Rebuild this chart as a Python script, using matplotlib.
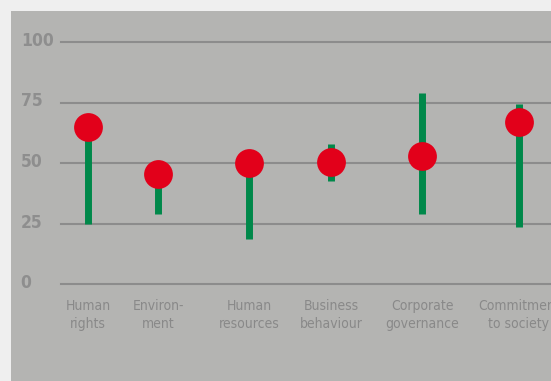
import matplotlib
matplotlib.use("Agg")
import matplotlib.pyplot as plt
from matplotlib.patches import Rectangle
from matplotlib.transforms import ScaledTranslation

categories = ["Human\nrights", "Environ-\nment", "Human\nresources",
              "Business\nbehaviour", "Corporate\ngovernance", "Commitment\nto society"]
scores = [65, 45.5, 50, 50.5, 53, 67]
range_low = [25, 29, 18.5, 42.5, 29, 23.5]
range_high = [65, 45.5, 50, 58, 79, 74.5]
yticks = [0, 25, 50, 75, 100]

# uneven horizontal placement, as in the original
xpos = [27, 97, 188, 270, 361, 458]

plt.rcParams['font.family'] = ['DejaVu Sans']
plt.rcParams['font.stretch'] = 'condensed'

fig = plt.figure(figsize=(5.51, 3.81), dpi=100)
fig.patch.set_facecolor("#efefef")
fig.patches.append(Rectangle((11 / 551, 0), 1, 1 - 11 / 381, transform=fig.transFigure,
                             facecolor="#b4b4b2", edgecolor="none", zorder=-10))

ax = fig.add_axes([61 / 551, 1 - 284 / 381, 490 / 551, (284 - 42) / 381])
ax.set_facecolor("none")
ax.set_xlim(0, 490)
ax.set_ylim(0, 100)

for y in yticks:
    ax.axhline(y, color="#8c8c8c", lw=1.5, zorder=1, clip_on=False)

ax.vlines(xpos, range_low, range_high, color="#00884a", lw=5, zorder=2)
ax.scatter(xpos, scores, s=430, color="#e2001a", zorder=3, linewidths=0)

for s in ax.spines.values():
    s.set_visible(False)

ax.set_yticks(yticks)
ax.set_yticklabels([str(v) for v in yticks], fontsize=12.5, color="#8e8e8e",
                   ha="left", fontstretch="condensed", fontweight="bold")
ax.tick_params(axis="y", length=0, pad=29)
shift = ScaledTranslation(0, 3 / 100, fig.dpi_scale_trans)
for lbl in ax.get_yticklabels():
    lbl.set_transform(lbl.get_transform() + shift)

ax.set_xticks(xpos)
ax.set_xticklabels(categories, fontsize=10, color="#898989", linespacing=1.3,
                   fontstretch="condensed")
ax.tick_params(axis="x", length=0, pad=11)

fig.savefig("out.png", dpi=100, facecolor=fig.get_facecolor())
